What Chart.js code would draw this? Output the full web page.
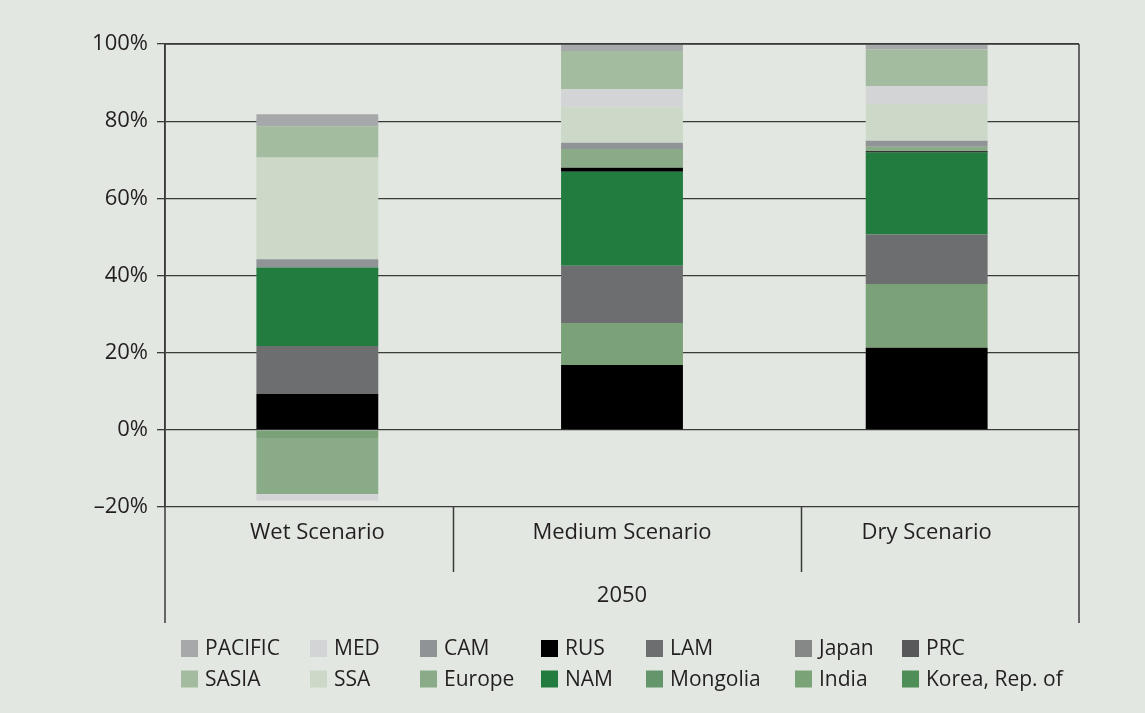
<!DOCTYPE html>
<html>
<head>
<meta charset="utf-8">
<script src="https://cdn.jsdelivr.net/npm/chart.js@4.4.1/dist/chart.umd.min.js"></script>
<style>
  html, body { margin: 0; padding: 0; background: #e2e7e1; }
  #wrap { width: 1145px; height: 713px; position: relative; }
</style>
</head>
<body>
<div id="wrap"><canvas id="c" width="1145" height="713"></canvas></div>
<script>
// ---- data ----
const categories = ['Wet Scenario', 'Medium Scenario', 'Dry Scenario'];
const groupLabel = '2050';
const yTicks = [-20, 0, 20, 40, 60, 80, 100];

// series in stacking order (bottom to top), values in %
const seriesNames = ['Korea, Rep. of', 'PRC', 'India', 'Japan', 'Mongolia', 'LAM', 'NAM', 'RUS', 'Europe', 'CAM', 'SSA', 'MED', 'SASIA', 'PACIFIC'];
const korea    = [0, 0, 0];
const prc      = [9.3, 16.8, 21.3];
const india    = [-2.1, 10.9, 16.5];
const japan    = [0, 0, 0];
const mongolia = [0, 0, 0];
const lam      = [12.4, 14.8, 12.8];
const nam      = [20.4, 24.4, 21.3];
const rus      = [0, 1.0, 0.3];
const europe   = [-14.5, 4.9, 1.2];
const cam      = [2.1, 1.6, 1.5];
const ssa      = [26.4, 9.2, 9.6];
const med      = [-1.8, 4.7, 4.6];
const sasia    = [8.1, 9.9, 9.5];
const pacific  = [3.1, 1.8, 1.4];
const seriesValues = [korea, prc, india, japan, mongolia, lam, nam, rus, europe, cam, ssa, med, sasia, pacific];

const barColors = ['#4f8e56', '#000000', '#7aa177', '#868787', '#65956a', '#6d6e70', '#227c40', '#000000', '#8aab87', '#919497', '#ccd8c8', '#d2d4d6', '#a3bb9e', '#a6a8aa'];
const legendColors = ['#4f8e56', '#58585a', '#7aa377', '#868787', '#65956a', '#6d6e70', '#227c40', '#000000', '#8aab87', '#8f9396', '#ccd8c8', '#d2d4d6', '#a3bb9e', '#a6a8aa'];

// legend grid (rows x columns), by series name
const legendRows = [
  ['PACIFIC', 'MED', 'CAM', 'RUS', 'LAM', 'Japan', 'PRC'],
  ['SASIA', 'SSA', 'Europe', 'NAM', 'Mongolia', 'India', 'Korea, Rep. of']
];

const FONT = '"Open Sans", "Noto Sans", sans-serif';
const TEXT = '#231f20';
const LINE = '#3a3a3a';

const datasets = seriesNames.map((n, i) => ({
  label: n,
  data: seriesValues[i],
  backgroundColor: barColors[i],
  borderWidth: 0,
  categoryPercentage: 0.4,
  barPercentage: 1.0
}));

const decor = {
  id: 'decor',
  beforeDraw(chart) {
    const ctx = chart.ctx;
    ctx.save();
    ctx.fillStyle = '#e2e7e1';
    ctx.fillRect(0, 0, chart.width, chart.height);
    ctx.restore();
  },
  afterDraw(chart) {
    const ctx = chart.ctx, a = chart.chartArea;
    ctx.save();
    ctx.strokeStyle = LINE;
    ctx.lineWidth = 1.5;
    const line = (x1, y1, x2, y2) => { ctx.beginPath(); ctx.moveTo(x1, y1); ctx.lineTo(x2, y2); ctx.stroke(); };
    line(a.left, a.top, a.left, a.bottom + 116);
    line(a.right, a.top, a.right, a.bottom + 116);
    line(a.left, a.top, a.right, a.top);
    [0.315, 0.696].forEach(f => {
      const x = Math.round(a.left + f * (a.right - a.left)) + 0.5;
      line(x, a.bottom, x, a.bottom + 65);
    });
    ctx.fillStyle = TEXT;
    ctx.font = '22px ' + FONT;
    ctx.textAlign = 'center';
    ctx.textBaseline = 'middle';
    ctx.fillText(groupLabel, (a.left + a.right) / 2, a.bottom + 89);

    // legend
    const colX = [181, 310, 420, 541, 646, 795, 902];
    const rowY = [648.5, 679];
    const box = 17;
    ctx.textAlign = 'left';
    ctx.font = '21px ' + FONT;
    legendRows.forEach((row, r) => {
      row.forEach((name, c) => {
        const idx = seriesNames.indexOf(name);
        ctx.fillStyle = legendColors[idx];
        ctx.fillRect(colX[c], rowY[r] - box / 2, box, box);
        ctx.fillStyle = TEXT;
        ctx.fillText(name, colX[c] + box + 7, rowY[r] + 1);
      });
    });
    ctx.restore();
  }
};

new Chart(document.getElementById('c'), {
  type: 'bar',
  data: { labels: categories, datasets },
  options: {
    responsive: false,
    animation: false,
    layout: { padding: { top: 44, right: 66, bottom: 0, left: 0 } },
    plugins: { legend: { display: false }, tooltip: { enabled: false } },
    scales: {
      x: {
        stacked: true,
        grid: { display: false, drawTicks: false },
        border: { display: false },
        ticks: { color: TEXT, font: { family: FONT, size: 22 }, padding: 13, maxRotation: 0 },
        afterFit: s => { s.height = 206; }
      },
      y: {
        stacked: true,
        min: -20, max: 100,
        afterBuildTicks: s => { s.ticks = yTicks.map(v => ({ value: v })); },
        grid: { color: LINE, lineWidth: 1.3, tickLength: 8, drawTicks: true },
        border: { display: true, color: LINE, width: 1.5 },
        ticks: {
          color: TEXT, font: { family: FONT, size: 22 }, padding: 9,
          callback: v => (v < 0 ? '\u2013' + Math.abs(v) : v) + '%'
        },
        afterFit: s => { s.width = 165; }
      }
    }
  },
  plugins: [decor]
});
</script>
</body>
</html>
